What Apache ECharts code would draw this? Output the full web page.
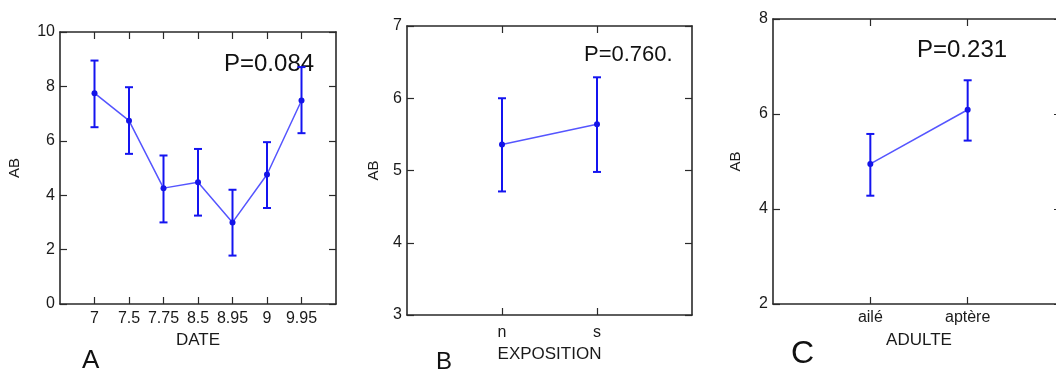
<!DOCTYPE html>
<html>
<head>
<meta charset="utf-8">
<script src="https://cdn.jsdelivr.net/npm/echarts@6/dist/echarts.min.js"></script>
<style>
  html, body { margin: 0; padding: 0; background: #fff; }
  #main { width: 1056px; height: 372px; }
</style>
</head>
<body>
<div id="main"></div>
<script>
// A : DATE
var dateCats = ['7', '7.5', '7.75', '8.5', '8.95', '9', '9.95'];
var dateMean = [7.75, 6.74, 4.26, 4.48, 3.0, 4.76, 7.48];
var dateLow = [6.5, 5.52, 3.0, 3.25, 1.78, 3.53, 6.28];
var dateHigh = [8.95, 7.97, 5.46, 5.7, 4.2, 5.95, 8.71];
// B : EXPOSITION
var expoCats = ['n', 's'];
var expoMean = [5.36, 5.64];
var expoLow = [4.71, 4.98];
var expoHigh = [6.0, 6.29];
// C : ADULTE
var adulteCats = ['ailé', 'aptère'];
var adulteMean = [4.95, 6.09];
var adulteLow = [4.28, 5.44];
var adulteHigh = [5.58, 6.71];

var font = 'Liberation Sans, Arial, sans-serif';
var axisColor = '#2a2a2a';
var textColor = '#1a1a1a';

var panels = [
  { cats: dateCats, mean: dateMean, low: dateLow, high: dateHigh, xName: 'DATE',
    yMin: 0, yMax: 10, yStep: 2, grid: { left: 60, width: 276, top: 32, height: 272 },
    yNameGap: 38, xNameGap: 24, labelMargin: 7 },
  { cats: expoCats, mean: expoMean, low: expoLow, high: expoHigh, xName: 'EXPOSITION',
    yMin: 3, yMax: 7, yStep: 1, grid: { left: 407, width: 285, top: 26, height: 289 },
    yNameGap: 26, xNameGap: 26, labelMargin: 10 },
  { cats: adulteCats, mean: adulteMean, low: adulteLow, high: adulteHigh, xName: 'ADULTE',
    yMin: 2, yMax: 8, yStep: 2, grid: { left: 773, width: 292, top: 19, height: 285 },
    yNameGap: 30, xNameGap: 28, labelMargin: 6 }
];

function errorBar(params, api) {
  var x = api.value(0);
  var top = api.coord([x, api.value(2)]);
  var bot = api.coord([x, api.value(1)]);
  var w = 4;
  var style = { stroke: '#1414f0', lineWidth: 2 };
  return {
    type: 'group',
    children: [
      { type: 'line', shape: { x1: top[0], y1: top[1], x2: bot[0], y2: bot[1] }, style: style },
      { type: 'line', shape: { x1: top[0] - w, y1: top[1], x2: top[0] + w, y2: top[1] }, style: style },
      { type: 'line', shape: { x1: bot[0] - w, y1: bot[1], x2: bot[0] + w, y2: bot[1] }, style: style }
    ]
  };
}

var grids = [], xAxes = [], yAxes = [], series = [];
panels.forEach(function (p, i) {
  var cats = [''].concat(p.cats).concat(['']);
  var last = cats.length - 1;
  grids.push(Object.assign({ outerBoundsMode: 'none', containLabel: false }, p.grid));
  var tick = {
    show: true, inside: true, length: 7,
    interval: function (idx) { return idx > 0 && idx < last; },
    lineStyle: { color: axisColor, width: 1.2 }
  };
  var line = { show: true, onZero: false, lineStyle: { color: axisColor, width: 1.6 } };
  xAxes.push({
    gridIndex: i, type: 'category', position: 'bottom', data: cats, boundaryGap: false,
    axisLine: line, axisTick: tick,
    axisLabel: { interval: 0, margin: p.labelMargin, color: textColor, fontSize: 16, fontFamily: font },
    name: p.xName, nameLocation: 'middle', nameGap: p.xNameGap,
    nameTextStyle: { color: textColor, fontSize: 17, fontFamily: font, verticalAlign: 'top' }
  });
  xAxes.push({
    gridIndex: i, type: 'category', position: 'top', data: cats, boundaryGap: false,
    axisLine: line, axisTick: tick, axisLabel: { show: false }
  });
  var yTick = { show: true, inside: true, length: 7, lineStyle: { color: axisColor, width: 1.2 } };
  yAxes.push({
    gridIndex: i, type: 'value', position: 'left', min: p.yMin, max: p.yMax, interval: p.yStep,
    axisLine: line, axisTick: yTick, splitLine: { show: false },
    axisLabel: { margin: 5, color: textColor, fontSize: 16, fontFamily: font },
    name: 'AB', nameLocation: 'middle', nameGap: p.yNameGap, nameRotate: 90,
    nameTextStyle: { color: textColor, fontSize: 15, fontFamily: font }
  });
  yAxes.push({
    gridIndex: i, type: 'value', position: 'right', min: p.yMin, max: p.yMax, interval: p.yStep,
    axisLine: line, axisTick: Object.assign({}, yTick, { length: i === 2 ? 11 : 7 }),
    splitLine: { show: false }, axisLabel: { show: false }
  });

  series.push({
    type: 'custom', xAxisIndex: 2 * i, yAxisIndex: 2 * i,
    renderItem: errorBar, encode: { x: 0, y: [1, 2] }, z: 3,
    data: p.mean.map(function (v, k) { return [k + 1, p.low[k], p.high[k]]; })
  });
  series.push({
    type: 'line', xAxisIndex: 2 * i, yAxisIndex: 2 * i, z: 4,
    symbol: 'circle', symbolSize: 6,
    itemStyle: { color: '#1414e8' },
    lineStyle: { color: '#5555ff', width: 1.5 },
    data: p.mean.map(function (v, k) { return [k + 1, v]; })
  });
});

var pStyle = { fill: '#111', fontSize: 24, fontFamily: font };
var letter = { fill: '#111', fontFamily: font };

var chart = echarts.init(document.getElementById('main'));
chart.setOption({
  animation: false,
  grid: grids,
  xAxis: xAxes,
  yAxis: yAxes,
  series: series,
  graphic: [
    { type: 'text', left: 224, top: 52, style: Object.assign({ text: 'P=0.084' }, pStyle) },
    { type: 'text', left: 584, top: 44, style: Object.assign({ text: 'P=0.760.' }, pStyle, { fontSize: 22 }) },
    { type: 'text', left: 917, top: 38, style: Object.assign({ text: 'P=0.231' }, pStyle) },
    { type: 'text', left: 82, top: 348, style: Object.assign({ text: 'A', fontSize: 26 }, letter) },
    { type: 'text', left: 436, top: 350, style: Object.assign({ text: 'B', fontSize: 24 }, letter) },
    { type: 'text', left: 791, top: 338, style: Object.assign({ text: 'C', fontSize: 32 }, letter) }
  ]
});
</script>
</body>
</html>
